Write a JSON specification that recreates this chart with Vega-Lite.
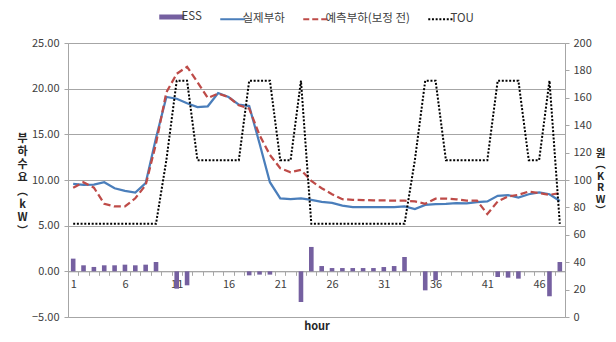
{
  "$schema": "https://vega.github.io/schema/vega-lite/v6.json",
  "autosize": {"type": "none"},
  "padding": {"left": 68, "top": 43, "right": 51, "bottom": 25},
  "width": 497,
  "height": 274,
  "background": "white",
  "config": {
    "font": "Noto Sans CJK KR",
    "view": {"stroke": "#a6a6a6", "strokeWidth": 1},
    "axis": {"labelFont": "Noto Sans CJK KR", "titleFont": "Noto Sans CJK KR", "labelFontSize": 11, "labelColor": "#404040", "titleColor": "#262626", "tickColor": "#a6a6a6", "domainColor": "#a6a6a6"},
    "legend": {"labelFont": "Noto Sans CJK KR", "labelFontSize": 11.5, "labelColor": "#404040"}
  },
  "data": {
    "values": [
      {"hour": 1, "ess": 1.39, "actual": 9.57, "forecast": 9.16, "tou": 68},
      {"hour": 2, "ess": 0.66, "actual": 9.47, "forecast": 9.76, "tou": 68},
      {"hour": 3, "ess": 0.48, "actual": 9.5, "forecast": 9.16, "tou": 68},
      {"hour": 4, "ess": 0.66, "actual": 9.76, "forecast": 7.4, "tou": 68},
      {"hour": 5, "ess": 0.66, "actual": 9.1, "forecast": 7.1, "tou": 68},
      {"hour": 6, "ess": 0.73, "actual": 8.81, "forecast": 7.1, "tou": 68},
      {"hour": 7, "ess": 0.66, "actual": 8.63, "forecast": 8.0, "tou": 68},
      {"hour": 8, "ess": 0.73, "actual": 9.65, "forecast": 9.44, "tou": 68},
      {"hour": 9, "ess": 1.02, "actual": 14.6, "forecast": 14.0, "tou": 68},
      {"hour": 10, "ess": 0, "actual": 19.09, "forecast": 19.6, "tou": 114.5},
      {"hour": 11, "ess": -1.9, "actual": 18.9, "forecast": 21.63, "tou": 172.5},
      {"hour": 12, "ess": -1.53, "actual": 18.4, "forecast": 22.4, "tou": 172.5},
      {"hour": 13, "ess": 0, "actual": 17.99, "forecast": 20.72, "tou": 114.5},
      {"hour": 14, "ess": 0, "actual": 18.07, "forecast": 18.98, "tou": 114.5},
      {"hour": 15, "ess": 0, "actual": 19.52, "forecast": 19.45, "tou": 114.5},
      {"hour": 16, "ess": 0, "actual": 19.09, "forecast": 19.09, "tou": 114.5},
      {"hour": 17, "ess": 0, "actual": 18.26, "forecast": 18.18, "tou": 114.5},
      {"hour": 18, "ess": -0.44, "actual": 18.1, "forecast": 17.82, "tou": 172.5},
      {"hour": 19, "ess": -0.36, "actual": 14.0, "forecast": 14.91, "tou": 172.5},
      {"hour": 20, "ess": -0.36, "actual": 9.76, "forecast": 12.75, "tou": 172.5},
      {"hour": 21, "ess": 0, "actual": 7.98, "forecast": 11.28, "tou": 114.5},
      {"hour": 22, "ess": 0, "actual": 7.9, "forecast": 10.85, "tou": 114.5},
      {"hour": 23, "ess": -3.36, "actual": 7.98, "forecast": 11.1, "tou": 172.5},
      {"hour": 24, "ess": 2.67, "actual": 7.82, "forecast": 9.9, "tou": 68},
      {"hour": 25, "ess": 0.58, "actual": 7.6, "forecast": 9.1, "tou": 68},
      {"hour": 26, "ess": 0.36, "actual": 7.5, "forecast": 8.45, "tou": 68},
      {"hour": 27, "ess": 0.36, "actual": 7.2, "forecast": 7.9, "tou": 68},
      {"hour": 28, "ess": 0.36, "actual": 7.04, "forecast": 7.83, "tou": 68},
      {"hour": 29, "ess": 0.36, "actual": 7.04, "forecast": 7.8, "tou": 68},
      {"hour": 30, "ess": 0.36, "actual": 7.04, "forecast": 7.77, "tou": 68},
      {"hour": 31, "ess": 0.47, "actual": 7.04, "forecast": 7.77, "tou": 68},
      {"hour": 32, "ess": 0.58, "actual": 7.04, "forecast": 7.73, "tou": 68},
      {"hour": 33, "ess": 1.57, "actual": 7.1, "forecast": 7.73, "tou": 68},
      {"hour": 34, "ess": 0, "actual": 6.81, "forecast": 7.65, "tou": 114.5},
      {"hour": 35, "ess": -2.08, "actual": 7.28, "forecast": 7.4, "tou": 172.5},
      {"hour": 36, "ess": -0.98, "actual": 7.35, "forecast": 7.96, "tou": 172.5},
      {"hour": 37, "ess": 0, "actual": 7.38, "forecast": 7.96, "tou": 114.5},
      {"hour": 38, "ess": 0, "actual": 7.47, "forecast": 7.89, "tou": 114.5},
      {"hour": 39, "ess": 0, "actual": 7.43, "forecast": 7.74, "tou": 114.5},
      {"hour": 40, "ess": 0, "actual": 7.58, "forecast": 7.74, "tou": 114.5},
      {"hour": 41, "ess": 0, "actual": 7.65, "forecast": 6.27, "tou": 114.5},
      {"hour": 42, "ess": -0.62, "actual": 8.27, "forecast": 7.65, "tou": 172.5},
      {"hour": 43, "ess": -0.69, "actual": 8.34, "forecast": 8.2, "tou": 172.5},
      {"hour": 44, "ess": -0.8, "actual": 8.08, "forecast": 8.38, "tou": 172.5},
      {"hour": 45, "ess": 0, "actual": 8.44, "forecast": 8.74, "tou": 114.5},
      {"hour": 46, "ess": 0, "actual": 8.63, "forecast": 8.56, "tou": 114.5},
      {"hour": 47, "ess": -2.73, "actual": 8.44, "forecast": 8.38, "tou": 172.5},
      {"hour": 48, "ess": 1.02, "actual": 7.7, "forecast": 8.56, "tou": 68}
    ]
  },
  "encoding": {
    "x": {
      "field": "hour",
      "type": "ordinal",
      "scale": {"paddingInner": 0, "paddingOuter": 0},
      "axis": {
        "title": "hour",
        "offset": -45.67,
        "labelAngle": 0,
        "labelOverlap": false,
        "labelExpr": "(datum.value - 1) % 5 === 0 ? datum.label : ''",
        "tickBand": "extent",
        "tickSize": 4,
        "labelPadding": 3,
        "grid": false,
        "titleFontWeight": "bold",
        "titleFontSize": 11,
        "titleBaseline": "middle",
        "titleY": 55
      }
    }
  },
  "layer": [
    {
      "mark": {"type": "bar", "width": 4.6},
      "encoding": {
        "y": {
          "field": "ess",
          "type": "quantitative",
          "scale": {"domain": [-5, 25], "nice": false, "zero": false},
          "axis": {
            "values": [-5, 0, 5, 10, 15, 20, 25],
            "format": ".2f",
            "grid": true,
            "gridColor": "#a6a6a6",
            "domain": false,
            "tickSize": 4,
            "labelPadding": 5,
            "title": ["부", "하", "수", "요", "︵", "k", "W", "︶"],
            "titleAngle": 0,
            "titleAlign": "center",
            "titleBaseline": "middle",
            "titleX": -46,
            "titleY": 95,
            "titleLineHeight": 13.3,
            "titleFontSize": 11,
            "titleFontWeight": "bold"
          }
        },
        "color": {
          "datum": "ESS",
          "type": "nominal",
          "scale": {
            "domain": ["ESS", "실제부하", "예측부하(보정 전)", "TOU"],
            "range": ["#7560A0", "#4A7EBB", "#BE4B48", "#000000"]
          },
          "legend": {
            "title": null,
            "orient": "none",
            "direction": "horizontal",
            "legendX": 98,
            "legendY": -32,
            "symbolType": "stroke",
            "symbolSize": 625,
            "symbolStrokeWidth": 2,
            "labelOffset": 4,
            "columnPadding": 14,
            "encode": {
              "symbols": {
                "update": {
                  "stroke": {"signal": "scale('color', datum.value)"},
                  "fill": {"value": "transparent"},
                  "strokeWidth": {"signal": "datum.value === 'ESS' ? 5 : 2"},
                  "strokeDash": {"signal": "datum.value === 'TOU' ? [2, 1.7] : (datum.value === 'ESS' || datum.value === '실제부하') ? [1, 0] : [6, 3]"}
                }
              }
            }
          }
        }
      }
    },
    {
      "mark": {"type": "line", "strokeWidth": 2.25},
      "encoding": {
        "y": {
          "field": "actual",
          "type": "quantitative",
          "scale": {"domain": [-5, 25], "nice": false, "zero": false},
          "axis": null
        },
        "color": {"datum": "실제부하", "type": "nominal"}
      }
    },
    {
      "mark": {"type": "line", "strokeWidth": 2.25, "strokeDash": [7, 3.5]},
      "encoding": {
        "y": {
          "field": "forecast",
          "type": "quantitative",
          "scale": {"domain": [-5, 25], "nice": false, "zero": false},
          "axis": null
        },
        "color": {"datum": "예측부하(보정 전)", "type": "nominal"}
      }
    },
    {
      "mark": {"type": "line", "strokeWidth": 2, "strokeDash": [2, 1.7]},
      "encoding": {
        "y": {
          "field": "tou",
          "type": "quantitative",
          "scale": {"domain": [0, 200], "nice": false, "zero": false},
          "axis": {
            "orient": "right",
            "values": [0, 20, 40, 60, 80, 100, 120, 140, 160, 180, 200],
            "grid": false,
            "domain": false,
            "tickSize": 4,
            "labelPadding": 4,
            "title": ["원", "︵", "K", "R", "W", "︶"],
            "titleAngle": 0,
            "titleAlign": "center",
            "titleBaseline": "middle",
            "titleX": 35,
            "titleY": 110,
            "titleLineHeight": 11.5,
            "titleFontSize": 10.5,
            "titleFontWeight": "bold"
          }
        },
        "color": {"datum": "TOU", "type": "nominal"}
      }
    }
  ],
  "resolve": {"scale": {"y": "independent"}}
}
